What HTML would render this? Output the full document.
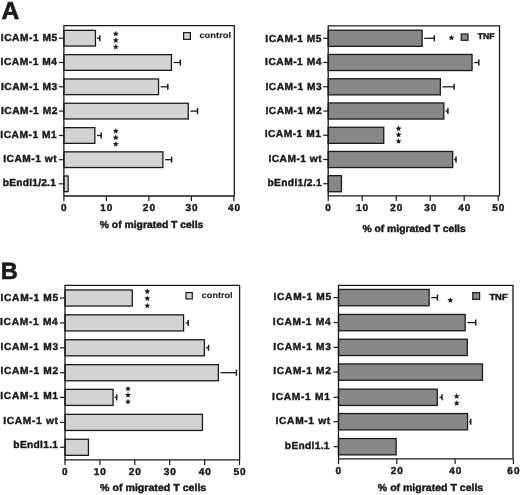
<!DOCTYPE html>
<html><head><meta charset="utf-8"><style>
html,body{margin:0;padding:0;background:#fff;}
body{width:520px;height:495px;overflow:hidden;}
svg{display:block;filter:grayscale(1);}
text{font-family:"Liberation Sans", sans-serif;font-weight:bold;fill:#1a1a1a;text-rendering:geometricPrecision;stroke:#1a1a1a;stroke-width:0.45px;}
.big{stroke-width:0.65px;}
.lg{stroke-width:0.1px;}
</style></head><body>
<svg width="520" height="495" viewBox="0 0 520 495">
<rect width="520" height="495" fill="#fff"/>
<text class="big" x="1.58" y="19.00" style="font-size:24.5px">A</text>
<text class="big" x="0.76" y="279.00" style="font-size:23.5px">B</text>
<path d="M63.9 25.6H234.3V196.0" fill="none" stroke="#1a1a1a" stroke-width="1.3"/>
<rect x="63.90" y="30.35" width="31.55" height="15.70" fill="#d3d3d3" stroke="#1a1a1a" stroke-width="1.3"/>
<path d="M97.00 38.20H99.80" fill="none" stroke="#1a1a1a" stroke-width="1.3"/>
<path d="M99.80 35.20V41.20" fill="none" stroke="#1a1a1a" stroke-width="1.5"/>
<path d="M58.90 38.20H63.9" stroke="#1a1a1a" stroke-width="1.2"/>
<text x="0.78" y="41.00" style="font-size:10.2px;letter-spacing:0.544px">ICAM-1 M5</text>
<rect x="63.90" y="54.65" width="107.55" height="15.70" fill="#d3d3d3" stroke="#1a1a1a" stroke-width="1.3"/>
<path d="M173.60 62.50H180.30" fill="none" stroke="#1a1a1a" stroke-width="1.3"/>
<path d="M180.30 59.50V65.50" fill="none" stroke="#1a1a1a" stroke-width="1.5"/>
<path d="M58.90 62.50H63.9" stroke="#1a1a1a" stroke-width="1.2"/>
<text x="0.56" y="65.00" style="font-size:10.2px;letter-spacing:0.546px">ICAM-1 M4</text>
<rect x="63.90" y="78.95" width="94.65" height="15.70" fill="#d3d3d3" stroke="#1a1a1a" stroke-width="1.3"/>
<path d="M160.70 86.80H167.80" fill="none" stroke="#1a1a1a" stroke-width="1.3"/>
<path d="M167.80 83.80V89.80" fill="none" stroke="#1a1a1a" stroke-width="1.5"/>
<path d="M58.90 86.80H63.9" stroke="#1a1a1a" stroke-width="1.2"/>
<text x="0.89" y="90.00" style="font-size:10.2px;letter-spacing:0.543px">ICAM-1 M3</text>
<rect x="63.90" y="103.25" width="124.35" height="15.70" fill="#d3d3d3" stroke="#1a1a1a" stroke-width="1.3"/>
<path d="M190.40 111.10H197.50" fill="none" stroke="#1a1a1a" stroke-width="1.3"/>
<path d="M197.50 108.10V114.10" fill="none" stroke="#1a1a1a" stroke-width="1.5"/>
<path d="M58.90 111.10H63.9" stroke="#1a1a1a" stroke-width="1.2"/>
<text x="0.95" y="114.00" style="font-size:10.2px;letter-spacing:0.542px">ICAM-1 M2</text>
<rect x="63.90" y="127.65" width="30.95" height="15.70" fill="#d3d3d3" stroke="#1a1a1a" stroke-width="1.3"/>
<path d="M97.00 135.50H101.20" fill="none" stroke="#1a1a1a" stroke-width="1.3"/>
<path d="M101.20 132.50V138.50" fill="none" stroke="#1a1a1a" stroke-width="1.5"/>
<path d="M58.90 135.50H63.9" stroke="#1a1a1a" stroke-width="1.2"/>
<text x="0.28" y="138.00" style="font-size:10.2px;letter-spacing:0.544px">ICAM-1 M1</text>
<rect x="63.90" y="151.85" width="98.95" height="15.70" fill="#d3d3d3" stroke="#1a1a1a" stroke-width="1.3"/>
<path d="M165.00 159.70H171.60" fill="none" stroke="#1a1a1a" stroke-width="1.3"/>
<path d="M171.60 156.70V162.70" fill="none" stroke="#1a1a1a" stroke-width="1.5"/>
<path d="M58.90 159.70H63.9" stroke="#1a1a1a" stroke-width="1.2"/>
<text x="3.21" y="162.00" style="font-size:10.2px;letter-spacing:0.515px">ICAM-1 wt</text>
<rect x="63.90" y="175.95" width="4.25" height="15.70" fill="#d3d3d3" stroke="#1a1a1a" stroke-width="1.3"/>
<path d="M58.90 183.80H63.9" stroke="#1a1a1a" stroke-width="1.2"/>
<text x="2.85" y="186.00" style="font-size:10.2px;letter-spacing:0.223px">bEndl1/2.1</text>
<path d="M63.9 25.1V196.0H234.3" fill="none" stroke="#1a1a1a" stroke-width="1.3"/>
<path d="M63.90 196.0V201.2" stroke="#1a1a1a" stroke-width="1.2"/>
<text x="60.89" y="211.00" style="font-size:10px;letter-spacing:0.000px">0</text>
<path d="M106.40 196.0V201.2" stroke="#1a1a1a" stroke-width="1.2"/>
<text x="100.22" y="211.00" style="font-size:10px;letter-spacing:1.005px">10</text>
<path d="M148.90 196.0V201.2" stroke="#1a1a1a" stroke-width="1.2"/>
<text x="142.86" y="211.00" style="font-size:10px;letter-spacing:1.035px">20</text>
<path d="M191.40 196.0V201.2" stroke="#1a1a1a" stroke-width="1.2"/>
<text x="185.40" y="211.00" style="font-size:10px;letter-spacing:1.045px">30</text>
<path d="M233.90 196.0V201.2" stroke="#1a1a1a" stroke-width="1.2"/>
<text x="227.95" y="211.00" style="font-size:10px;letter-spacing:1.055px">40</text>
<polygon points="115.80,30.70 116.62,32.67 118.75,32.84 117.13,34.23 117.62,36.31 115.80,35.20 113.98,36.31 114.47,34.23 112.85,32.84 114.98,32.67" fill="#1a1a1a"/>
<polygon points="115.80,37.30 116.62,39.27 118.75,39.44 117.13,40.83 117.62,42.91 115.80,41.80 113.98,42.91 114.47,40.83 112.85,39.44 114.98,39.27" fill="#1a1a1a"/>
<polygon points="115.80,43.80 116.62,45.77 118.75,45.94 117.13,47.33 117.62,49.41 115.80,48.30 113.98,49.41 114.47,47.33 112.85,45.94 114.98,45.77" fill="#1a1a1a"/>
<polygon points="115.80,128.10 116.62,130.07 118.75,130.24 117.13,131.63 117.62,133.71 115.80,132.59 113.98,133.71 114.47,131.63 112.85,130.24 114.98,130.07" fill="#1a1a1a"/>
<polygon points="115.80,134.60 116.62,136.57 118.75,136.74 117.13,138.13 117.62,140.21 115.80,139.09 113.98,140.21 114.47,138.13 112.85,136.74 114.98,136.57" fill="#1a1a1a"/>
<polygon points="115.80,141.10 116.62,143.07 118.75,143.24 117.13,144.63 117.62,146.71 115.80,145.59 113.98,146.71 114.47,144.63 112.85,143.24 114.98,143.07" fill="#1a1a1a"/>
<rect x="183.60" y="32.60" width="6.80" height="6.80" fill="#d3d3d3" stroke="#1a1a1a" stroke-width="1.2"/>
<text class="lg" x="199.43" y="38.00" style="font-size:8.4px" textLength="31.66" lengthAdjust="spacingAndGlyphs">control</text>
<text x="99.74" y="228.00" style="font-size:10.1px" textLength="103.60" lengthAdjust="spacingAndGlyphs">% of migrated T cells</text>
<path d="M328.2 25.8H499.5V195.8" fill="none" stroke="#1a1a1a" stroke-width="1.3"/>
<rect x="328.20" y="30.25" width="93.95" height="16.10" fill="#888888" stroke="#1a1a1a" stroke-width="1.3"/>
<path d="M424.30 38.30H434.30" fill="none" stroke="#1a1a1a" stroke-width="1.3"/>
<path d="M434.30 35.30V41.30" fill="none" stroke="#1a1a1a" stroke-width="1.5"/>
<path d="M323.20 38.30H328.2" stroke="#1a1a1a" stroke-width="1.2"/>
<text x="265.34" y="42.00" style="font-size:10.2px;letter-spacing:0.512px">ICAM-1 M5</text>
<rect x="328.20" y="54.45" width="143.85" height="16.10" fill="#888888" stroke="#1a1a1a" stroke-width="1.3"/>
<path d="M474.20 62.50H478.80" fill="none" stroke="#1a1a1a" stroke-width="1.3"/>
<path d="M478.80 59.50V65.50" fill="none" stroke="#1a1a1a" stroke-width="1.5"/>
<path d="M323.20 62.50H328.2" stroke="#1a1a1a" stroke-width="1.2"/>
<text x="265.12" y="65.00" style="font-size:10.2px;letter-spacing:0.514px">ICAM-1 M4</text>
<rect x="328.20" y="78.75" width="112.15" height="16.10" fill="#888888" stroke="#1a1a1a" stroke-width="1.3"/>
<path d="M442.50 86.80H454.10" fill="none" stroke="#1a1a1a" stroke-width="1.3"/>
<path d="M454.10 83.80V89.80" fill="none" stroke="#1a1a1a" stroke-width="1.5"/>
<path d="M323.20 86.80H328.2" stroke="#1a1a1a" stroke-width="1.2"/>
<text x="265.45" y="90.00" style="font-size:10.2px;letter-spacing:0.511px">ICAM-1 M3</text>
<rect x="328.20" y="102.95" width="115.65" height="16.10" fill="#888888" stroke="#1a1a1a" stroke-width="1.3"/>
<path d="M445.40 111.00H447.90" fill="none" stroke="#1a1a1a" stroke-width="1.3"/>
<path d="M447.90 108.00V114.00" fill="none" stroke="#1a1a1a" stroke-width="1.5"/>
<path d="M323.20 111.00H328.2" stroke="#1a1a1a" stroke-width="1.2"/>
<text x="265.50" y="114.00" style="font-size:10.2px;letter-spacing:0.511px">ICAM-1 M2</text>
<rect x="328.20" y="127.25" width="55.55" height="16.10" fill="#888888" stroke="#1a1a1a" stroke-width="1.3"/>
<path d="M323.20 135.30H328.2" stroke="#1a1a1a" stroke-width="1.2"/>
<text x="264.64" y="137.00" style="font-size:10.2px;letter-spacing:0.512px">ICAM-1 M1</text>
<rect x="328.20" y="151.45" width="124.45" height="16.10" fill="#888888" stroke="#1a1a1a" stroke-width="1.3"/>
<path d="M454.20 159.50H456.00" fill="none" stroke="#1a1a1a" stroke-width="1.3"/>
<path d="M456.00 156.50V162.50" fill="none" stroke="#1a1a1a" stroke-width="1.5"/>
<path d="M323.20 159.50H328.2" stroke="#1a1a1a" stroke-width="1.2"/>
<text x="268.46" y="162.00" style="font-size:10.2px;letter-spacing:0.485px">ICAM-1 wt</text>
<rect x="328.20" y="175.65" width="13.25" height="16.10" fill="#888888" stroke="#1a1a1a" stroke-width="1.3"/>
<path d="M323.20 183.70H328.2" stroke="#1a1a1a" stroke-width="1.2"/>
<text x="267.50" y="186.00" style="font-size:10.2px;letter-spacing:0.362px">bEndl1/2.1</text>
<path d="M328.2 25.3V195.8H499.5" fill="none" stroke="#1a1a1a" stroke-width="1.3"/>
<path d="M328.20 195.8V201.0" stroke="#1a1a1a" stroke-width="1.2"/>
<text x="325.19" y="211.00" style="font-size:10px;letter-spacing:0.000px">0</text>
<path d="M362.20 195.8V201.0" stroke="#1a1a1a" stroke-width="1.2"/>
<text x="356.02" y="211.00" style="font-size:10px;letter-spacing:1.005px">10</text>
<path d="M396.20 195.8V201.0" stroke="#1a1a1a" stroke-width="1.2"/>
<text x="390.16" y="211.00" style="font-size:10px;letter-spacing:1.035px">20</text>
<path d="M430.20 195.8V201.0" stroke="#1a1a1a" stroke-width="1.2"/>
<text x="424.20" y="211.00" style="font-size:10px;letter-spacing:1.045px">30</text>
<path d="M464.20 195.8V201.0" stroke="#1a1a1a" stroke-width="1.2"/>
<text x="458.25" y="211.00" style="font-size:10px;letter-spacing:1.055px">40</text>
<path d="M498.20 195.8V201.0" stroke="#1a1a1a" stroke-width="1.2"/>
<text x="492.18" y="211.00" style="font-size:10px;letter-spacing:1.040px">50</text>
<polygon points="451.50,34.70 452.32,36.67 454.45,36.84 452.83,38.23 453.32,40.31 451.50,39.20 449.68,40.31 450.17,38.23 448.55,36.84 450.68,36.67" fill="#1a1a1a"/>
<polygon points="398.60,125.60 399.42,127.57 401.55,127.74 399.93,129.13 400.42,131.21 398.60,130.09 396.78,131.21 397.27,129.13 395.65,127.74 397.78,127.57" fill="#1a1a1a"/>
<polygon points="398.60,131.70 399.42,133.67 401.55,133.84 399.93,135.23 400.42,137.31 398.60,136.20 396.78,137.31 397.27,135.23 395.65,133.84 397.78,133.67" fill="#1a1a1a"/>
<polygon points="398.60,138.20 399.42,140.17 401.55,140.34 399.93,141.73 400.42,143.81 398.60,142.70 396.78,143.81 397.27,141.73 395.65,140.34 397.78,140.17" fill="#1a1a1a"/>
<rect x="461.20" y="34.00" width="6.80" height="6.30" fill="#888888" stroke="#1a1a1a" stroke-width="1.2"/>
<text x="477.81" y="39.00" style="font-size:8.4px" textLength="16.68" lengthAdjust="spacingAndGlyphs">TNF</text>
<text x="362.44" y="232.00" style="font-size:10.1px" textLength="103.30" lengthAdjust="spacingAndGlyphs">% of migrated T cells</text>
<path d="M65.0 285.3H239.6V459.8" fill="none" stroke="#1a1a1a" stroke-width="1.3"/>
<rect x="65.00" y="289.95" width="67.25" height="16.10" fill="#d3d3d3" stroke="#1a1a1a" stroke-width="1.3"/>
<path d="M60.00 298.00H65.0" stroke="#1a1a1a" stroke-width="1.2"/>
<text x="0.50" y="301.00" style="font-size:10.2px;letter-spacing:0.704px">ICAM-1 M5</text>
<rect x="65.00" y="314.85" width="118.55" height="16.10" fill="#d3d3d3" stroke="#1a1a1a" stroke-width="1.3"/>
<path d="M185.70 322.90H188.20" fill="none" stroke="#1a1a1a" stroke-width="1.3"/>
<path d="M188.20 319.90V325.90" fill="none" stroke="#1a1a1a" stroke-width="1.5"/>
<path d="M60.00 322.90H65.0" stroke="#1a1a1a" stroke-width="1.2"/>
<text x="0.07" y="325.00" style="font-size:10.2px;letter-spacing:0.707px">ICAM-1 M4</text>
<rect x="65.00" y="339.75" width="139.35" height="16.10" fill="#d3d3d3" stroke="#1a1a1a" stroke-width="1.3"/>
<path d="M205.90 347.80H208.50" fill="none" stroke="#1a1a1a" stroke-width="1.3"/>
<path d="M208.50 344.80V350.80" fill="none" stroke="#1a1a1a" stroke-width="1.5"/>
<path d="M60.00 347.80H65.0" stroke="#1a1a1a" stroke-width="1.2"/>
<text x="0.41" y="350.00" style="font-size:10.2px;letter-spacing:0.703px">ICAM-1 M3</text>
<rect x="65.00" y="364.65" width="153.35" height="16.10" fill="#d3d3d3" stroke="#1a1a1a" stroke-width="1.3"/>
<path d="M220.50 372.70H236.40" fill="none" stroke="#1a1a1a" stroke-width="1.3"/>
<path d="M236.40 369.70V375.70" fill="none" stroke="#1a1a1a" stroke-width="1.5"/>
<path d="M60.00 372.70H65.0" stroke="#1a1a1a" stroke-width="1.2"/>
<text x="0.47" y="374.00" style="font-size:10.2px;letter-spacing:0.702px">ICAM-1 M2</text>
<rect x="65.00" y="389.35" width="48.05" height="16.10" fill="#d3d3d3" stroke="#1a1a1a" stroke-width="1.3"/>
<path d="M114.60 397.40H116.70" fill="none" stroke="#1a1a1a" stroke-width="1.3"/>
<path d="M116.70 394.40V400.40" fill="none" stroke="#1a1a1a" stroke-width="1.5"/>
<path d="M60.00 397.40H65.0" stroke="#1a1a1a" stroke-width="1.2"/>
<text x="0.30" y="399.00" style="font-size:10.2px;letter-spacing:0.704px">ICAM-1 M1</text>
<rect x="65.00" y="414.35" width="137.45" height="16.10" fill="#d3d3d3" stroke="#1a1a1a" stroke-width="1.3"/>
<path d="M60.00 422.40H65.0" stroke="#1a1a1a" stroke-width="1.2"/>
<text x="3.30" y="424.00" style="font-size:10.2px;letter-spacing:0.667px">ICAM-1 wt</text>
<rect x="65.00" y="439.25" width="23.45" height="16.10" fill="#d3d3d3" stroke="#1a1a1a" stroke-width="1.3"/>
<path d="M60.00 447.30H65.0" stroke="#1a1a1a" stroke-width="1.2"/>
<text x="13.37" y="448.00" style="font-size:10.2px;letter-spacing:0.315px">bEndl1.1</text>
<path d="M65.0 284.8V459.8H239.6" fill="none" stroke="#1a1a1a" stroke-width="1.3"/>
<path d="M65.00 459.8V465.0" stroke="#1a1a1a" stroke-width="1.2"/>
<text x="61.99" y="475.00" style="font-size:10px;letter-spacing:0.000px">0</text>
<path d="M99.90 459.8V465.0" stroke="#1a1a1a" stroke-width="1.2"/>
<text x="93.72" y="475.00" style="font-size:10px;letter-spacing:1.005px">10</text>
<path d="M134.80 459.8V465.0" stroke="#1a1a1a" stroke-width="1.2"/>
<text x="128.76" y="475.00" style="font-size:10px;letter-spacing:1.035px">20</text>
<path d="M169.70 459.8V465.0" stroke="#1a1a1a" stroke-width="1.2"/>
<text x="163.70" y="475.00" style="font-size:10px;letter-spacing:1.045px">30</text>
<path d="M204.60 459.8V465.0" stroke="#1a1a1a" stroke-width="1.2"/>
<text x="198.65" y="475.00" style="font-size:10px;letter-spacing:1.055px">40</text>
<path d="M239.50 459.8V465.0" stroke="#1a1a1a" stroke-width="1.2"/>
<text x="233.48" y="475.00" style="font-size:10px;letter-spacing:1.040px">50</text>
<polygon points="147.30,288.40 148.12,290.37 150.25,290.54 148.63,291.93 149.12,294.01 147.30,292.89 145.48,294.01 145.97,291.93 144.35,290.54 146.48,290.37" fill="#1a1a1a"/>
<polygon points="147.30,295.40 148.12,297.37 150.25,297.54 148.63,298.93 149.12,301.01 147.30,299.89 145.48,301.01 145.97,298.93 144.35,297.54 146.48,297.37" fill="#1a1a1a"/>
<polygon points="147.30,302.70 148.12,304.67 150.25,304.84 148.63,306.23 149.12,308.31 147.30,307.19 145.48,308.31 145.97,306.23 144.35,304.84 146.48,304.67" fill="#1a1a1a"/>
<polygon points="128.00,385.70 128.82,387.67 130.95,387.84 129.33,389.23 129.82,391.31 128.00,390.19 126.18,391.31 126.67,389.23 125.05,387.84 127.18,387.67" fill="#1a1a1a"/>
<polygon points="128.00,392.10 128.82,394.07 130.95,394.24 129.33,395.63 129.82,397.71 128.00,396.59 126.18,397.71 126.67,395.63 125.05,394.24 127.18,394.07" fill="#1a1a1a"/>
<polygon points="128.00,398.70 128.82,400.67 130.95,400.84 129.33,402.23 129.82,404.31 128.00,403.19 126.18,404.31 126.67,402.23 125.05,400.84 127.18,400.67" fill="#1a1a1a"/>
<rect x="186.00" y="292.60" width="6.30" height="6.30" fill="#d3d3d3" stroke="#1a1a1a" stroke-width="1.2"/>
<text class="lg" x="201.84" y="298.00" style="font-size:8.4px" textLength="30.73" lengthAdjust="spacingAndGlyphs">control</text>
<text x="100.13" y="491.00" style="font-size:10.1px" textLength="106.12" lengthAdjust="spacingAndGlyphs">% of migrated T cells</text>
<path d="M338.5 285.3H513.0V458.9" fill="none" stroke="#1a1a1a" stroke-width="1.3"/>
<rect x="338.50" y="289.45" width="90.65" height="16.30" fill="#888888" stroke="#1a1a1a" stroke-width="1.3"/>
<path d="M431.30 297.60H437.40" fill="none" stroke="#1a1a1a" stroke-width="1.3"/>
<path d="M437.40 294.60V300.60" fill="none" stroke="#1a1a1a" stroke-width="1.5"/>
<path d="M333.50 297.60H338.5" stroke="#1a1a1a" stroke-width="1.2"/>
<text x="273.50" y="300.00" style="font-size:10.2px;letter-spacing:0.704px">ICAM-1 M5</text>
<rect x="338.50" y="314.45" width="126.65" height="16.30" fill="#888888" stroke="#1a1a1a" stroke-width="1.3"/>
<path d="M467.30 322.60H475.70" fill="none" stroke="#1a1a1a" stroke-width="1.3"/>
<path d="M475.70 319.60V325.60" fill="none" stroke="#1a1a1a" stroke-width="1.5"/>
<path d="M333.50 322.60H338.5" stroke="#1a1a1a" stroke-width="1.2"/>
<text x="272.87" y="325.00" style="font-size:10.2px;letter-spacing:0.707px">ICAM-1 M4</text>
<rect x="338.50" y="339.25" width="128.75" height="16.30" fill="#888888" stroke="#1a1a1a" stroke-width="1.3"/>
<path d="M333.50 347.40H338.5" stroke="#1a1a1a" stroke-width="1.2"/>
<text x="273.21" y="350.00" style="font-size:10.2px;letter-spacing:0.703px">ICAM-1 M3</text>
<rect x="338.50" y="363.95" width="143.95" height="16.30" fill="#888888" stroke="#1a1a1a" stroke-width="1.3"/>
<path d="M333.50 372.10H338.5" stroke="#1a1a1a" stroke-width="1.2"/>
<text x="273.27" y="374.00" style="font-size:10.2px;letter-spacing:0.702px">ICAM-1 M2</text>
<rect x="338.50" y="389.15" width="98.75" height="16.30" fill="#888888" stroke="#1a1a1a" stroke-width="1.3"/>
<path d="M439.40 397.30H442.00" fill="none" stroke="#1a1a1a" stroke-width="1.3"/>
<path d="M442.00 394.30V400.30" fill="none" stroke="#1a1a1a" stroke-width="1.5"/>
<path d="M333.50 397.30H338.5" stroke="#1a1a1a" stroke-width="1.2"/>
<text x="272.10" y="400.00" style="font-size:10.2px;letter-spacing:0.704px">ICAM-1 M1</text>
<rect x="338.50" y="413.55" width="129.05" height="16.30" fill="#888888" stroke="#1a1a1a" stroke-width="1.3"/>
<path d="M469.10 421.70H470.70" fill="none" stroke="#1a1a1a" stroke-width="1.3"/>
<path d="M470.70 418.70V424.70" fill="none" stroke="#1a1a1a" stroke-width="1.5"/>
<path d="M333.50 421.70H338.5" stroke="#1a1a1a" stroke-width="1.2"/>
<text x="275.60" y="424.00" style="font-size:10.2px;letter-spacing:0.667px">ICAM-1 wt</text>
<rect x="338.50" y="438.55" width="57.65" height="16.30" fill="#888888" stroke="#1a1a1a" stroke-width="1.3"/>
<path d="M333.50 446.70H338.5" stroke="#1a1a1a" stroke-width="1.2"/>
<text x="284.87" y="449.00" style="font-size:10.2px;letter-spacing:0.315px">bEndl1.1</text>
<path d="M338.5 284.8V458.9H513.0" fill="none" stroke="#1a1a1a" stroke-width="1.3"/>
<path d="M338.50 458.9V464.09999999999997" stroke="#1a1a1a" stroke-width="1.2"/>
<text x="335.49" y="474.00" style="font-size:10px;letter-spacing:0.000px">0</text>
<path d="M396.80 458.9V464.09999999999997" stroke="#1a1a1a" stroke-width="1.2"/>
<text x="390.76" y="474.00" style="font-size:10px;letter-spacing:1.035px">20</text>
<path d="M455.10 458.9V464.09999999999997" stroke="#1a1a1a" stroke-width="1.2"/>
<text x="449.15" y="474.00" style="font-size:10px;letter-spacing:1.055px">40</text>
<path d="M513.40 458.9V464.09999999999997" stroke="#1a1a1a" stroke-width="1.2"/>
<text x="507.36" y="474.00" style="font-size:10px;letter-spacing:1.035px">60</text>
<polygon points="450.30,297.20 451.12,299.17 453.25,299.34 451.63,300.73 452.12,302.81 450.30,301.69 448.48,302.81 448.97,300.73 447.35,299.34 449.48,299.17" fill="#1a1a1a"/>
<polygon points="456.70,393.20 457.52,395.17 459.65,395.34 458.03,396.73 458.52,398.81 456.70,397.69 454.88,398.81 455.37,396.73 453.75,395.34 455.88,395.17" fill="#1a1a1a"/>
<polygon points="456.70,400.20 457.52,402.17 459.65,402.34 458.03,403.73 458.52,405.81 456.70,404.69 454.88,405.81 455.37,403.73 453.75,402.34 455.88,402.17" fill="#1a1a1a"/>
<rect x="472.80" y="292.60" width="6.80" height="6.80" fill="#888888" stroke="#1a1a1a" stroke-width="1.2"/>
<text x="489.41" y="300.00" style="font-size:8.6px" textLength="18.21" lengthAdjust="spacingAndGlyphs">TNF</text>
<text x="377.84" y="491.00" style="font-size:10.1px" textLength="105.41" lengthAdjust="spacingAndGlyphs">% of migrated T cells</text>
</svg>
</body></html>
